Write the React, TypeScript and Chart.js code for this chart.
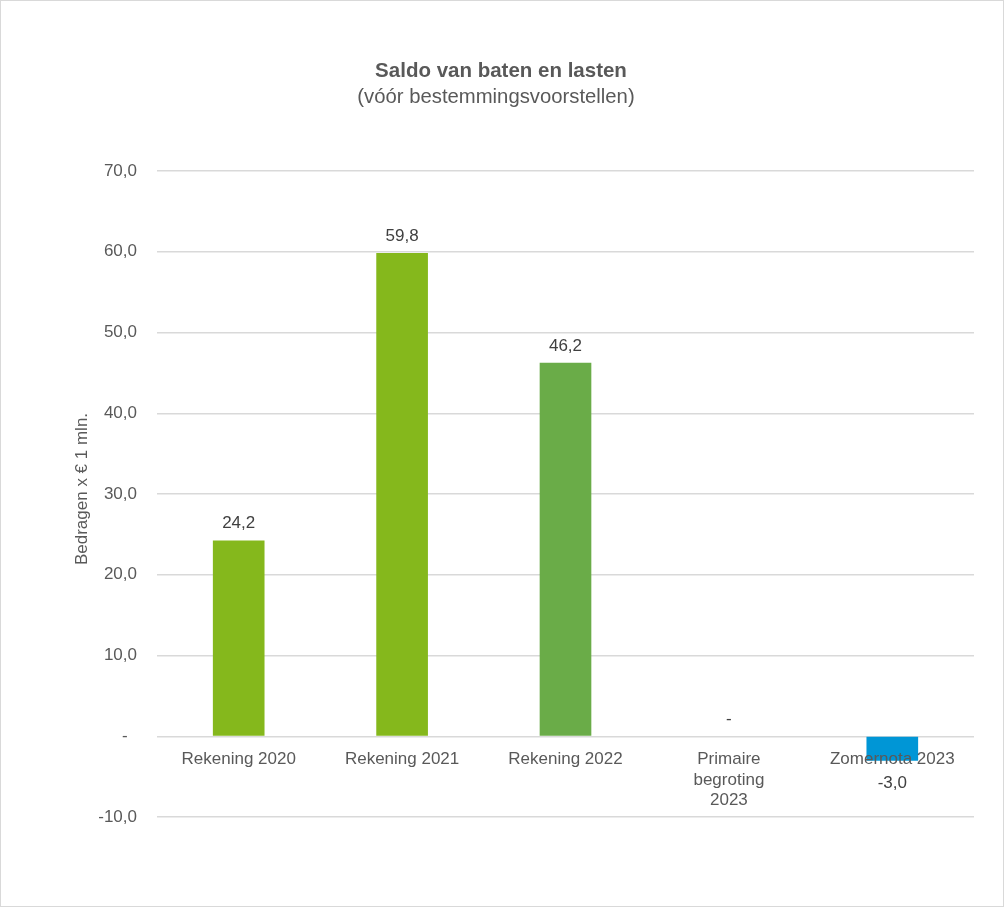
import React, { useEffect, useRef } from "react";
import { Chart, registerables } from "chart.js";

Chart.register(...registerables);

const categories: string[][] = [
  ["Rekening 2020"],
  ["Rekening 2021"],
  ["Rekening 2022"],
  ["Primaire", "begroting", "2023"],
  ["Zomernota 2023"],
];
const values: number[] = [24.2, 59.8, 46.2, 0, -3.0];
const barColors: string[] = ["#85B81C", "#85B81C", "#6AAC48", "rgba(0,0,0,0)", "#0096D6"];
const yMin = -10;
const yMax = 70;
const yStep = 10;
const titleText = "Saldo van baten en lasten";
const subtitleText = "(vóór bestemmingsvoorstellen)";
const yAxisTitle = "Bedragen x € 1 mln.";

const FONT = "'Liberation Sans', Arial, sans-serif";

const fmt = (v: number) => (v === 0 ? "-" : v.toFixed(1).replace(".", ","));

const textPlugin = {
  id: "customText",
  afterDatasetsDraw(chart: any) {
    const ctx = chart.ctx as CanvasRenderingContext2D;
    const yScale = chart.scales.y;
    const meta = chart.getDatasetMeta(0);
    const zero = yScale.getPixelForValue(0);
    ctx.save();
    // titles
    ctx.fillStyle = "#595959";
    ctx.textAlign = "center";
    ctx.textBaseline = "alphabetic";
    ctx.font = `bold 20.5px ${FONT}`;
    ctx.fillText(titleText, 501, 76.5);
    ctx.font = `20.3px ${FONT}`;
    ctx.fillText(subtitleText, 496, 103.3);
    // y axis title
    ctx.save();
    ctx.translate(86.5, 489);
    ctx.rotate(-Math.PI / 2);
    ctx.font = `17px ${FONT}`;
    ctx.textAlign = "center";
    ctx.fillText(yAxisTitle, 0, 0);
    ctx.restore();
    // category labels at zero line
    ctx.font = `17px ${FONT}`;
    ctx.fillStyle = "#595959";
    ctx.textAlign = "center";
    meta.data.forEach((bar: any, i: number) => {
      categories[i].forEach((line, j) => {
        ctx.fillText(line, bar.x, zero + 28 + j * 20.3);
      });
    });
    // data labels
    ctx.fillStyle = "#404040";
    meta.data.forEach((bar: any, i: number) => {
      const v = values[i];
      const label = fmt(v);
      if (v >= 0) {
        ctx.fillText(label, bar.x, Math.min(bar.y, bar.base) - 12.5);
      } else {
        ctx.fillText(label, bar.x, Math.max(bar.y, bar.base) + 27.5);
      }
    });
    ctx.restore();
  },
};

export default function App() {
  const canvasRef = useRef<HTMLCanvasElement | null>(null);

  useEffect(() => {
    if (!canvasRef.current) return;
    const chart = new Chart(canvasRef.current, {
      type: "bar",
      data: {
        labels: categories.map((c) => c.join(" ")),
        datasets: [
          {
            data: values,
            backgroundColor: barColors,
            borderWidth: 0,
            barThickness: 51,
          },
        ],
      },
      plugins: [textPlugin],
      options: {
        responsive: false,
        animation: false,
        devicePixelRatio: 1,
        layout: { padding: { top: 171, right: 30, bottom: 90, left: 0 } },
        plugins: {
          legend: { display: false },
          title: { display: false },
          tooltip: { enabled: false },
        },
        scales: {
          x: {
            display: false,
            grid: { display: false },
          },
          y: {
            min: yMin,
            max: yMax,
            afterFit: (scale: any) => {
              scale.width = 157;
            },
            border: { display: false },
            grid: {
              color: "#d9d9d9",
              lineWidth: 1.5,
              drawTicks: false,
            },
            ticks: {
              stepSize: yStep,
              padding: 20,
              color: "#595959",
              font: { family: FONT, size: 17 },
              callback: (v: any) => (Number(v) === 0 ? "-  " : fmt(Number(v))),
            },
          },
        },
      },
    });
    return () => chart.destroy();
  }, []);

  return (
    <div style={{ position: "absolute", left: 0, top: 0, width: 1004, height: 907, background: "#fff" }}>
      <canvas ref={canvasRef} width={1004} height={907} style={{ display: "block" }} />
      <div
        style={{
          position: "absolute",
          left: 0,
          top: 0,
          width: 1004,
          height: 907,
          boxSizing: "border-box",
          border: "1px solid #d9d9d9",
          pointerEvents: "none",
        }}
      />
    </div>
  );
}
